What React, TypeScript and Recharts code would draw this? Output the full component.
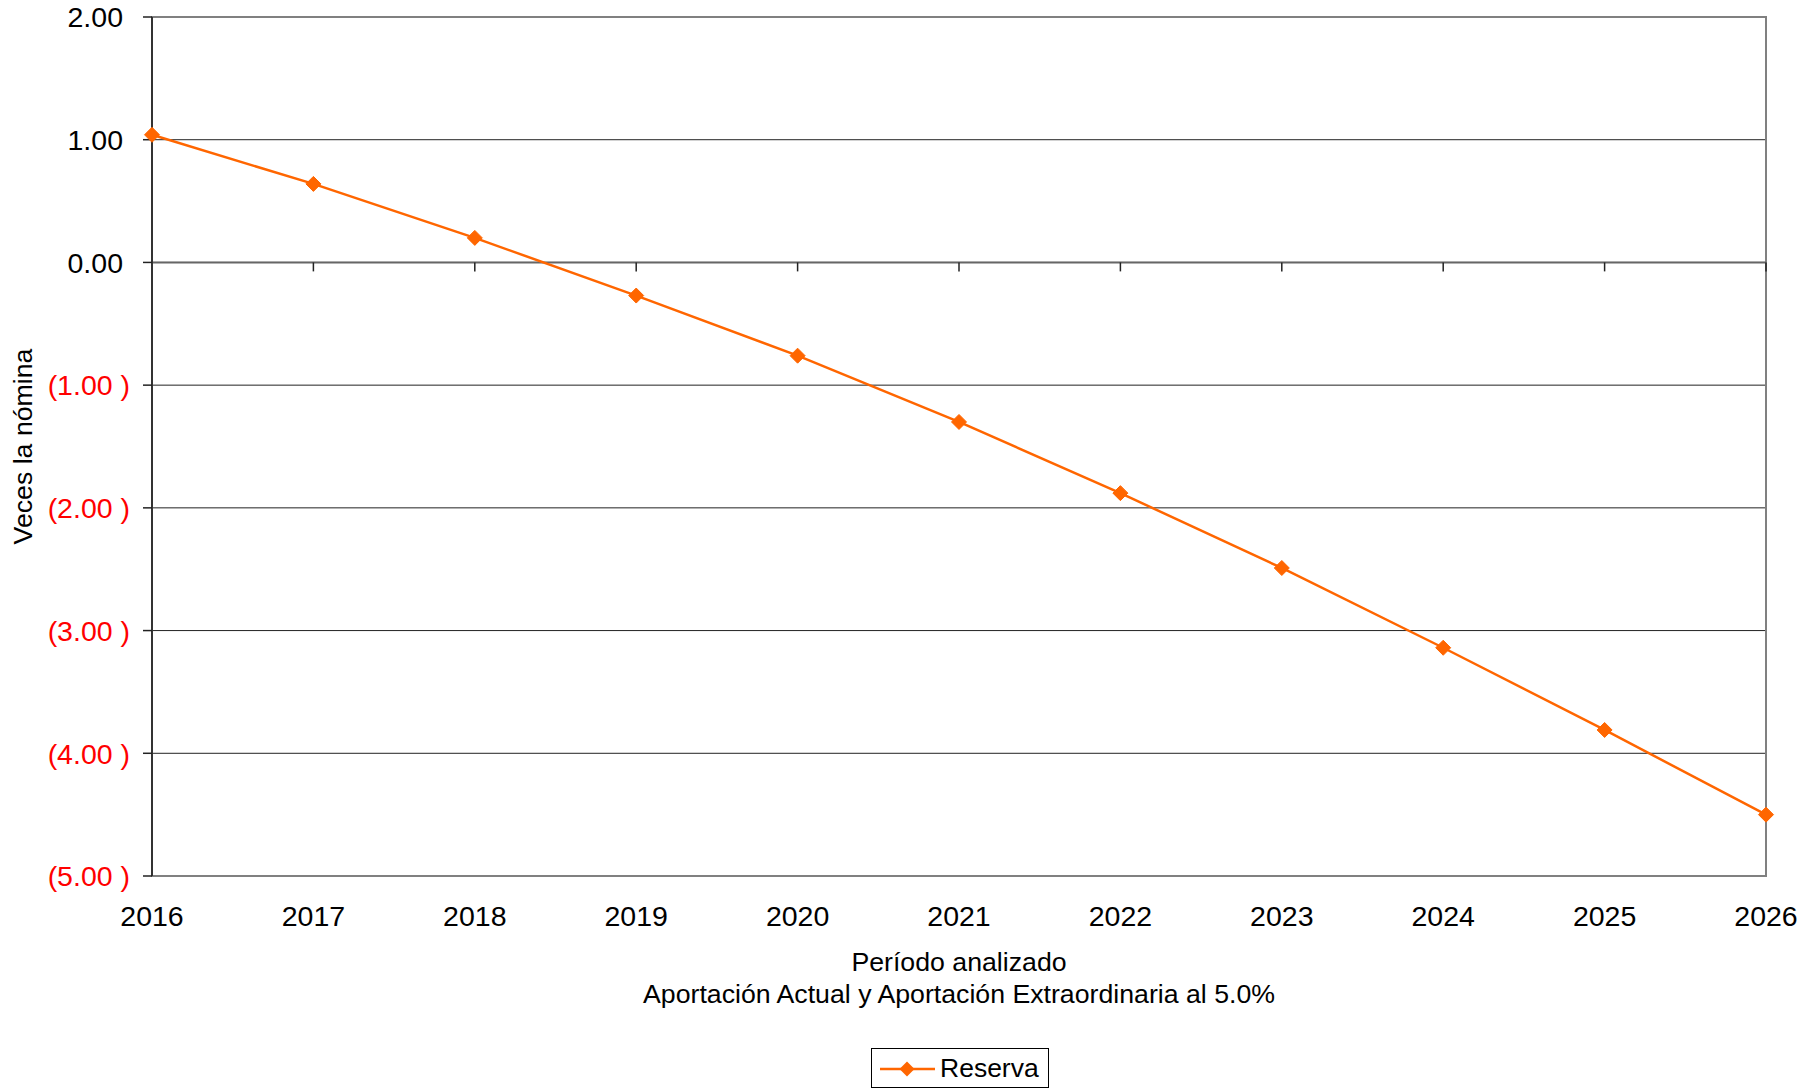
import React from 'react';
import {
  LineChart,
  Line,
  XAxis,
  YAxis,
  CartesianGrid,
  ReferenceLine,
  ReferenceArea,
} from 'recharts';

const years = ['2016', '2017', '2018', '2019', '2020', '2021', '2022', '2023', '2024', '2025', '2026'];
const reserva = [1.04, 0.64, 0.2, -0.27, -0.76, -1.3, -1.88, -2.49, -3.14, -3.81, -4.5];
const yTicks = [2, 1, 0, -1, -2, -3, -4, -5];
const yTickLabels = ['2.00', '1.00', '0.00', '(1.00 )', '(2.00 )', '(3.00 )', '(4.00 )', '(5.00 )'];
const seriesName = 'Reserva';
const yAxisTitle = 'Veces la nómina';
const xAxisTitle = ['Período analizado', 'Aportación Actual y Aportación Extraordinaria al 5.0%'];

const data = years.map((year, i) => ({ year, reserva: reserva[i] }));

const FONT = '"Liberation Sans", Arial, sans-serif';
const ORANGE = '#FF6600';

const YTick = (props: any) => {
  const { x, y, payload } = props;
  const idx = yTicks.indexOf(payload.value);
  const label = idx >= 0 ? yTickLabels[idx] : String(payload.value);
  const negative = payload.value < 0;
  return (
    <text
      x={x}
      y={y}
      dx={negative ? 0 : -7}
      dy="0.36em"
      textAnchor="end"
      fontFamily={FONT}
      fontSize={28.5}
      fill={negative ? '#FF0000' : '#000000'}
    >
      {label}
    </text>
  );
};

const XTick = (props: any) => {
  const { x, y, payload } = props;
  return (
    <text x={x} y={y} dy="0.71em" textAnchor="middle" fontFamily={FONT} fontSize={28.5} fill="#000">
      {payload.value}
    </text>
  );
};

const Diamond = (props: any) => {
  const { cx, cy } = props;
  if (cx == null || cy == null) return null;
  const r = 7.5;
  return (
    <polygon
      points={`${cx},${cy - r} ${cx + r},${cy} ${cx},${cy + r} ${cx - r},${cy}`}
      fill={ORANGE}
      stroke={ORANGE}
      strokeWidth={1}
    />
  );
};

const XTitle = (props: any) => {
  const { viewBox } = props;
  const cx = viewBox.x + viewBox.width / 2;
  return (
    <g>
      <text x={cx} y={viewBox.y + 95} textAnchor="middle" fontFamily={FONT} fontSize={26.7} fill="#000">
        {xAxisTitle[0]}
      </text>
      <text x={cx} y={viewBox.y + 127} textAnchor="middle" fontFamily={FONT} fontSize={26.7} fill="#000">
        {xAxisTitle[1]}
      </text>
    </g>
  );
};

const YTitle = (props: any) => {
  const { viewBox } = props;
  const bx = 32;
  const cy = viewBox.y + viewBox.height / 2;
  return (
    <text
      x={bx}
      y={cy}
      transform={`rotate(-90, ${bx}, ${cy})`}
      textAnchor="middle"
      fontFamily={FONT}
      fontSize={26.7}
      fill="#000"
    >
      {yAxisTitle}
    </text>
  );
};

export default function App() {
  return (
    <div style={{ position: 'absolute', left: 0, top: 0, width: 1802, height: 1090, background: '#fff' }}>
      <LineChart
        width={1802}
        height={1090}
        data={data}
        margin={{ top: 17, right: 36, left: 12, bottom: 84 }}
      >
        <CartesianGrid vertical={false} stroke="#222" strokeWidth={1} />
        <XAxis
          dataKey="year"
          height={130}
          axisLine={false}
          tickLine={false}
          tickSize={6}
          tickMargin={24}
          tick={<XTick />}
          interval={0}
          label={<XTitle />}
        />
        <YAxis
          type="number"
          domain={[-5, 2]}
          ticks={yTicks}
          width={140}
          tickSize={9}
          tickMargin={13}
          interval={0}
          tickLine={{ stroke: '#222', strokeWidth: 1.5 }}
          axisLine={{ stroke: '#333', strokeWidth: 2 }}
          tick={<YTick />}
          label={<YTitle />}
        />
        <ReferenceArea
          x1={years[0]}
          x2={years[years.length - 1]}
          y1={-5}
          y2={2}
          fill="none"
          fillOpacity={0}
          stroke="#808080"
          strokeWidth={2}
          ifOverflow="visible"
        />
        <ReferenceLine y={0} stroke="#666" strokeWidth={2} />
        {years.slice(1).map((yr) => (
          <ReferenceLine
            key={yr}
            segment={[
              { x: yr, y: 0 },
              { x: yr, y: -0.073 },
            ]}
            stroke="#222"
            strokeWidth={1.5}
          />
        ))}
        <Line
          type="linear"
          dataKey="reserva"
          name={seriesName}
          stroke={ORANGE}
          strokeWidth={2.5}
          dot={(p: any) => <Diamond key={p.index} {...p} />}
          activeDot={false}
          isAnimationActive={false}
        />
      </LineChart>
      <div
        style={{
          position: 'absolute',
          left: 871,
          top: 1048,
          width: 178,
          height: 40,
          boxSizing: 'border-box',
          border: '1px solid #000',
          background: '#fff',
        }}
      >
        <svg width={176} height={38} style={{ display: 'block' }}>
          <line x1={8} y1={20} x2={63} y2={20} stroke={ORANGE} strokeWidth={2.5} />
          <polygon points="35,12.5 42.5,20 35,27.5 27.5,20" fill={ORANGE} />
          <text x={68} y={28} fontFamily={FONT} fontSize={26.5} fill="#000">
            {seriesName}
          </text>
        </svg>
      </div>
    </div>
  );
}
